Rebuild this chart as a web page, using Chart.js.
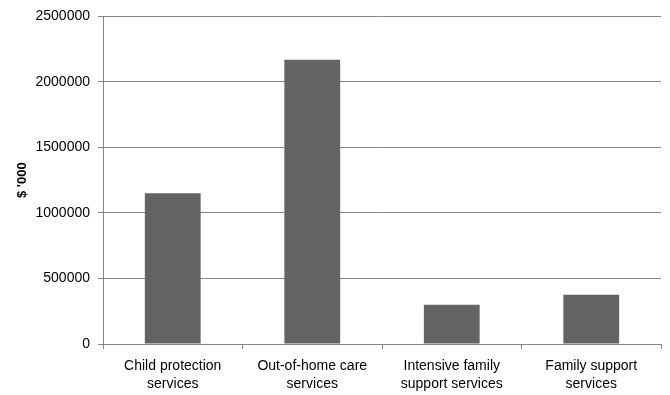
<!DOCTYPE html>
<html>
<head>
<meta charset="utf-8">
<script src="https://cdn.jsdelivr.net/npm/chart.js@4"></script>
<style>
  html, body { margin: 0; padding: 0; background: #fff; }
  #wrap { width: 670px; height: 395px; }
</style>
</head>
<body>
<div id="wrap"><canvas id="spendChart" width="670" height="395"></canvas></div>
<script>
// categories (split over two lines like the original)
const categories = [
  ['Child protection', 'services'],
  ['Out-of-home care', 'services'],
  ['Intensive family', 'support services'],
  ['Family support', 'services']
];
// expenditure, $'000
const spending = [1150000, 2170000, 300000, 375000];
const yTicks = [0, 500000, 1000000, 1500000, 2000000, 2500000];

const gridGray = '#868686';
const fontFamily = "'Liberation Sans', 'Open Sans', sans-serif";

const ctx = document.getElementById('spendChart').getContext('2d');
new Chart(ctx, {
  type: 'bar',
  data: {
    labels: categories,
    datasets: [{
      data: spending,
      backgroundColor: '#636363',
      borderWidth: 0,
      barPercentage: 0.4,
      categoryPercentage: 1.0
    }]
  },
  options: {
    responsive: false,
    animation: false,
    events: [],
    layout: { padding: { top: 14, right: 9, bottom: 0, left: 0 } },
    plugins: {
      legend: { display: false },
      tooltip: { enabled: false }
    },
    scales: {
      x: {
        offset: true,
        grid: {
          offset: true,
          drawOnChartArea: false,
          drawTicks: true,
          tickLength: 5,
          color: gridGray
        },
        border: { display: true, color: gridGray, width: 1 },
        ticks: {
          color: '#000',
          padding: 8,
          maxRotation: 0,
          font: { family: fontFamily, size: 14, lineHeight: 1.3 }
        },
        afterFit(scale) { scale.height = 51; }
      },
      y: {
        min: 0,
        max: 2500000,
        afterBuildTicks(scale) {
          scale.ticks = yTicks.map(v => ({ value: v }));
        },
        grid: {
          color: gridGray,
          tickLength: 5,
          drawTicks: true
        },
        border: { display: true, color: gridGray, width: 1 },
        ticks: {
          color: '#000',
          padding: 8,
          font: { family: fontFamily, size: 14 },
          callback: v => String(v)
        },
        title: {
          display: true,
          text: "$ '000",
          color: '#000',
          padding: { top: 15, bottom: 0 },
          font: { family: fontFamily, size: 13, weight: 'bold' }
        },
        afterFit(scale) { scale.width = 103; }
      }
    }
  }
});
</script>
</body>
</html>
